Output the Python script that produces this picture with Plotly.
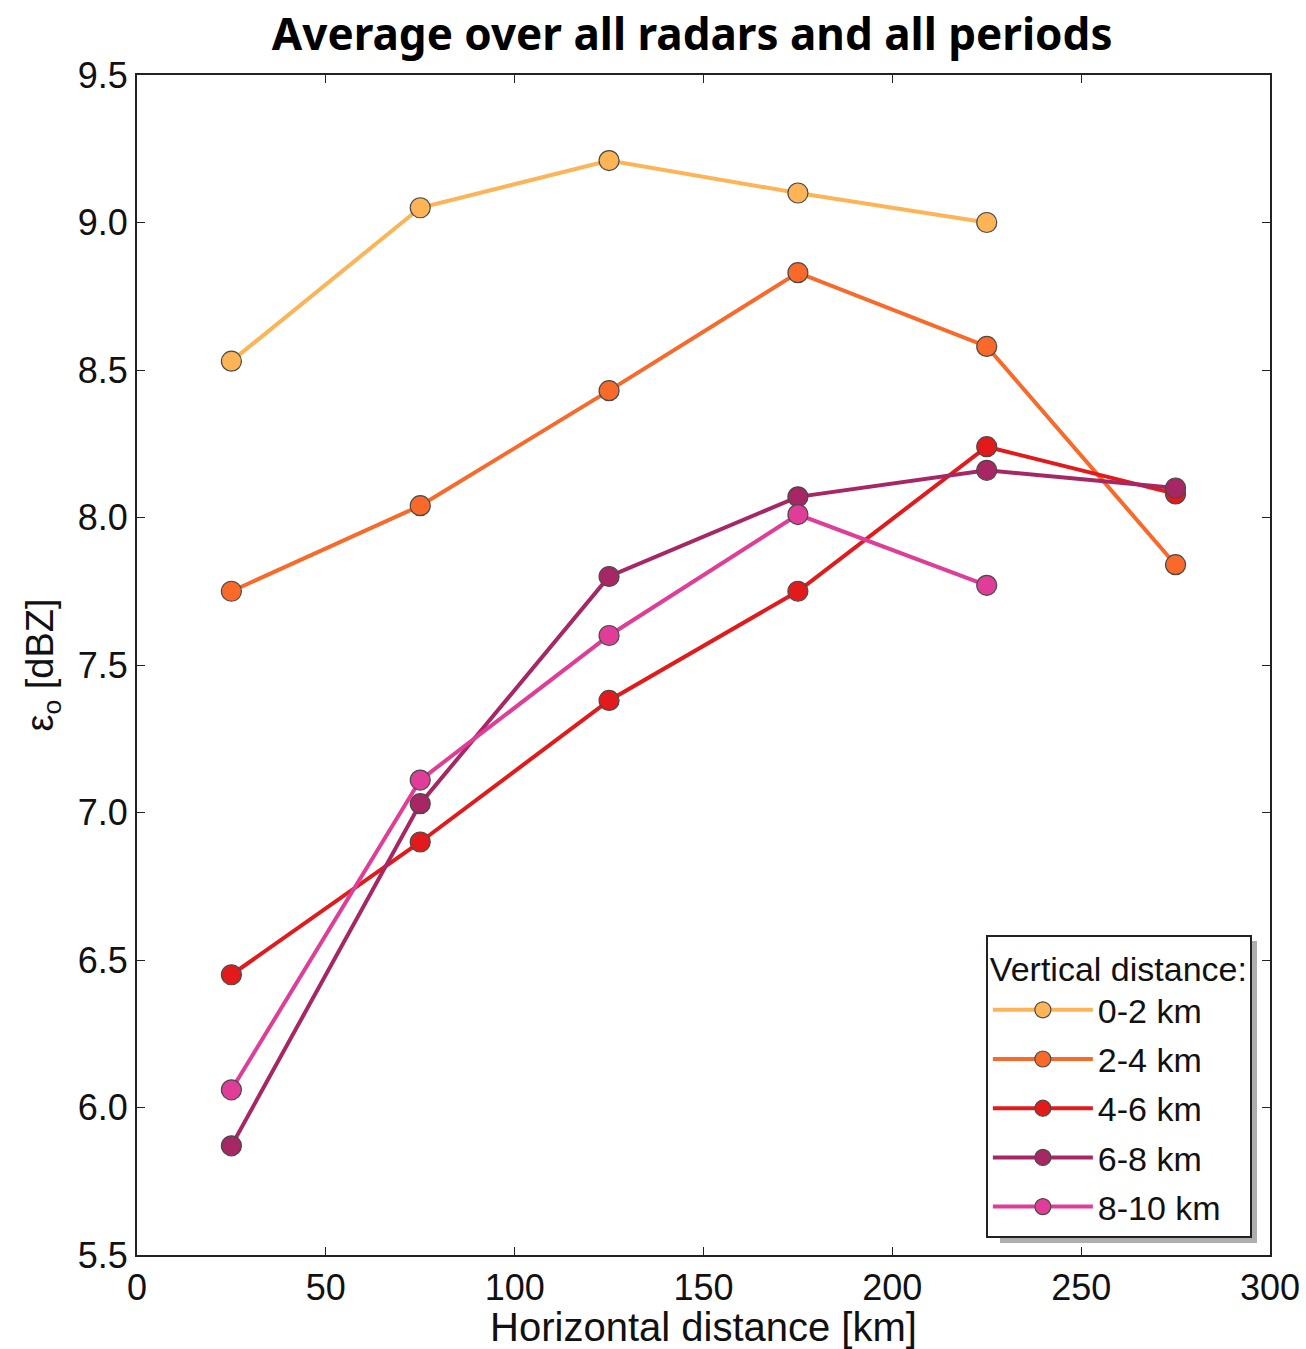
import plotly.graph_objects as go

x_km = [25, 75, 125, 175, 225, 275]
labels = ["0-2 km", "2-4 km", "4-6 km", "6-8 km", "8-10 km"]
colors = ["#fdb456", "#f96a2a", "#e31a1c", "#a62763", "#e03d98"]
v_0_2 = [8.53, 9.05, 9.21, 9.10, 9.00]
v_2_4 = [7.75, 8.04, 8.43, 8.83, 8.58, 7.84]
v_4_6 = [6.45, 6.90, 7.38, 7.75, 8.24, 8.08]
v_6_8 = [5.87, 7.03, 7.80, 8.07, 8.16, 8.10]
v_8_10 = [6.06, 7.11, 7.60, 8.01, 7.77]
series = [v_0_2, v_2_4, v_4_6, v_6_8, v_8_10]

x_ticks = [0, 50, 100, 150, 200, 250, 300]
y_ticks = [5.5, 6.0, 6.5, 7.0, 7.5, 8.0, 8.5, 9.0, 9.5]

FONT = "Liberation Sans, Arial, sans-serif"

fig = go.Figure()
for i, (lab, col, vals) in enumerate(zip(labels, colors, series)):
    fig.add_trace(go.Scatter(
        x=x_km[:len(vals)], y=vals, name=lab, mode="lines+markers",
        legendgroup="g%d" % i,
        line=dict(color=col, width=4),
        marker=dict(color=col, size=20, line=dict(color="#4a4a4a", width=1.2)),
    ))

axis_common = dict(
    showgrid=False, zeroline=False, showline=True, linecolor="#222222", linewidth=2,
    mirror="ticks", ticks="inside", ticklen=8, tickwidth=1, tickcolor="#222222",
    tickfont=dict(family=FONT, size=36, color="#111111"),
    automargin=False,
)

# legend drop shadow (pixel-space estimate converted to paper coordinates)
def px_to_paper_x(px):
    return (px - 137) / 1133.0

def px_to_paper_y(py):
    return (1255 - py) / 1180.0

fig.add_shape(type="rect", xref="paper", yref="paper",
              x0=px_to_paper_x(1000), x1=px_to_paper_x(1257),
              y0=px_to_paper_y(1243), y1=px_to_paper_y(941),
              fillcolor="#9a9a9a", line=dict(width=0), layer="above", opacity=0.8)

fig.update_layout(
    width=1306, height=1349,
    paper_bgcolor="white", plot_bgcolor="white",
    margin=dict(l=137, r=36, t=75, b=94),
    title=dict(text="<b>Average over all radars and all periods</b>",
               x=0.53, xanchor="center", y=0.974, yanchor="middle",
               font=dict(family="Noto Sans, Open Sans, sans-serif", size=44, color="black")),
    xaxis=dict(range=[0, 300], tickvals=x_ticks,
               title=dict(text="Horizontal distance [km]", standoff=6,
                          font=dict(family=FONT, size=40, color="#111111")),
               **axis_common),
    yaxis=dict(range=[5.5, 9.5], tickvals=y_ticks, tickformat=".1f",
               title=dict(text="ε<sub>o</sub> [dBZ]", standoff=12,
                          font=dict(family=FONT, size=38, color="#111111")),
               **axis_common),
    legend=dict(
        title=dict(text="Vertical distance:", font=dict(family=FONT, size=34, color="#111111")),
        font=dict(family=FONT, size=34, color="#111111"),
        x=0.984, xanchor="right", y=0.0144, yanchor="bottom",
        bgcolor="white", bordercolor="#222222", borderwidth=2,
        itemwidth=100, tracegroupgap=2, traceorder="grouped",
    ),
    showlegend=True,
)

fig.write_html("out.html")
